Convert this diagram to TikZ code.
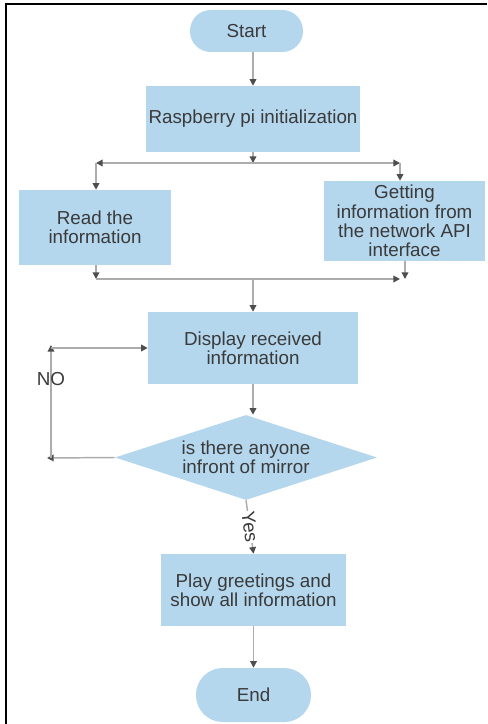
\documentclass[tikz,border=0pt]{standalone}
\usepackage{fontspec}
\setmainfont{Liberation Sans}
\usetikzlibrary{arrows.meta,shapes.geometric}
\definecolor{boxblue}{RGB}{180,215,238}
\definecolor{linegray}{RGB}{172,172,172}
\definecolor{tipgray}{RGB}{78,78,78}
\definecolor{txtgray}{RGB}{58,58,58}
\begin{document}
\begin{tikzpicture}[x=0.75pt,y=-0.75pt,
  every node/.style={font=\fontsize{14.1pt}{14.4pt}\selectfont, text=txtgray},
  proc/.style={rectangle, fill=boxblue, align=center, inner sep=0pt},
  term/.style={proc},
  decision/.style={diamond, fill=boxblue, align=center, inner sep=0pt, aspect=3.08},
  conn/.style={draw=linegray, line width=1.1pt, -{Triangle[length=5pt,width=5pt,color=tipgray]}},
  frame/.style={draw=black, line width=1.5pt}]
\useasboundingbox (0,0) rectangle (487,724);
\draw[frame] (5.5,724) -- (5.5,4.5) -- (487,4.5);

\node[term, minimum width=84.75pt, minimum height=31.5pt, rounded corners=15.5pt] (start) at (246.5,31) {Start};
\node[proc, minimum width=160.5pt, minimum height=49.5pt] (rasp) at (253,119) {Raspberry pi initialization};
\node[proc, minimum width=114pt, minimum height=56.25pt] (read) at (95,227.5) {Read the\\information};
\node[proc, minimum width=120.75pt, minimum height=60pt] (get) at (404.5,221) {Getting\\information from\\the network API\\interface};
\node[proc, minimum width=157.5pt, minimum height=54pt] (disp) at (253,348) {Display received\\information};
\node[decision, minimum width=196.5pt, minimum height=63.75pt] (dec) at (246,457.5) {is there anyone\\infront of mirror};
\node[proc, minimum width=138.75pt, minimum height=54pt] (play) at (253.5,590) {Play greetings and\\show all information};
\node[term, minimum width=86.25pt, minimum height=40.5pt, rounded corners=20pt] (end) at (253.5,695) {End};

\coordinate (split) at (253,163);
\coordinate (splitL) at (96,163);
\coordinate (splitR) at (400,163);
\coordinate (mergeL) at (96,279);
\coordinate (mergeR) at (405,279);
\coordinate (mergeRa) at (400,279);
\coordinate (merge) at (253,279);
\coordinate (noB) at (47,458);
\coordinate (noBL) at (51,458);
\coordinate (noT) at (51,345);
\coordinate (noC) at (51,348);

\draw[conn] (start.south -| rasp.north) -- (rasp.north);
\draw[conn] (rasp.south) -- (split);
\draw[conn] (split) -- (splitL);
\draw[conn] (splitL) -- (splitL |- read.north);
\draw[conn] (split) -- (splitR);
\draw[conn] (splitR) -- (splitR |- get.north);
\draw[conn] (mergeL |- read.south) -- (mergeL);
\draw[conn] (mergeR |- get.south) -- (mergeR);
\draw[conn] (mergeL) -- (mergeRa);
\draw[conn] (merge) -- (disp.north);
\draw[conn] (disp.south) -- (disp.south |- dec.north);
\draw[conn] (dec.west) -- (noB);
\draw[conn] (noBL) -- node[pos=0.7] (nolbl) {NO} (noT);
\draw[conn] (noC) -- (disp.west);
\draw[conn] (dec.south) -- node[sloped, fill=white, inner sep=0.5pt] (yeslbl) {Yes} (play.north);
\draw[conn] (play.south) -- (end.north);
\end{tikzpicture}
\end{document}
